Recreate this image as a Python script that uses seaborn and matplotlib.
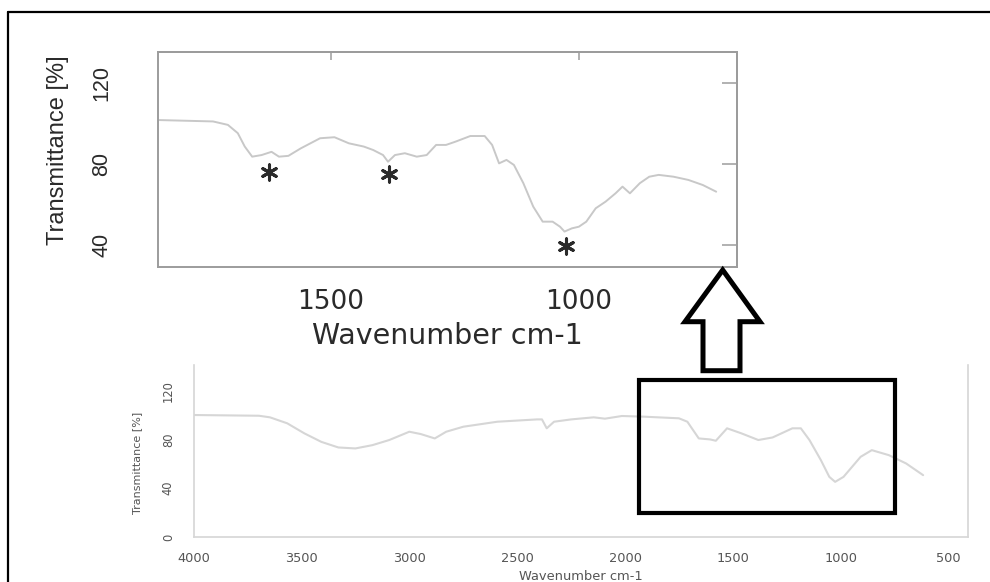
import matplotlib
matplotlib.use("Agg")
import matplotlib.pyplot as plt
from matplotlib.lines import Line2D
from matplotlib.patches import Polygon, Rectangle
import seaborn as sns
import pandas as pd

# Fingerprint region (upper panel), wavenumber in cm-1 and transmittance in %
fp_wavenumber = [1850, 1738, 1708, 1688, 1674, 1659, 1640, 1620, 1605, 1586,
                 1561, 1522, 1493, 1464, 1434, 1415, 1395, 1385, 1371, 1351,
                 1327, 1307, 1288, 1268, 1249, 1219, 1190, 1175, 1161, 1146,
                 1131, 1112, 1092, 1073, 1053, 1038, 1029, 1014, 1000, 985,
                 966, 946, 926, 912, 897, 877, 858, 839, 809, 779, 750, 723]
fp_transmittance = [101.7, 101.0, 99.3, 95.2, 88.6, 83.6, 84.4, 86.0, 83.6, 84.0,
                    87.7, 92.7, 93.2, 90.2, 88.6, 86.9, 84.4, 81.1, 84.4, 85.3,
                    83.6, 84.4, 89.4, 89.4, 91.0, 93.8, 93.8, 89.4, 80.3, 82.0,
                    79.5, 70.5, 58.9, 51.5, 51.5, 49.0, 46.6, 48.2, 49.0, 51.5,
                    58.1, 61.4, 65.5, 68.8, 65.5, 70.5, 73.7, 74.6, 73.7, 72.1,
                    69.6, 66.3]

# Marked absorption bands in the fingerprint region
peak_wavenumber = [1625, 1383, 1026]
peak_level = [76.2, 75.0, 39.5]

# Full spectrum (lower panel)
full_wavenumber = [4000, 3697, 3646, 3566, 3487, 3408, 3329, 3250, 3171, 3093,
                   3000, 2947, 2882, 2829, 2750, 2592, 2408, 2385, 2363, 2329,
                   2250, 2145, 2093, 2014, 1908, 1750, 1711, 1658, 1606, 1579,
                   1527, 1461, 1382, 1316, 1224, 1185, 1145, 1092, 1053, 1026,
                   987, 908, 856, 777, 697, 618]
full_transmittance = [100.0, 99.4, 98.1, 93.2, 85.0, 78.0, 73.4, 72.6, 75.3, 79.5,
                      86.3, 84.4, 80.8, 86.3, 90.4, 94.5, 96.4, 96.4, 89.1, 94.5,
                      96.4, 98.1, 97.0, 99.2, 98.6, 97.3, 94.5, 80.8, 80.0, 78.9,
                      89.1, 85.0, 79.5, 81.6, 89.1, 89.1, 79.5, 63.0, 49.3, 45.2,
                      49.3, 65.7, 71.2, 67.1, 60.3, 50.7]

top_xticks = [1500, 1000]
top_yticks = [40, 80, 120]
bottom_xticks = [4000, 3500, 3000, 2500, 2000, 1500, 1000, 500]
bottom_yticks = [0, 40, 80, 120]

# Zoom window drawn on the full spectrum
window_wn = (1935, 748)
window_t = (19.5, 128.8)

xlabel = "Wavenumber cm-1"
ylabel = "Transmittance [%]"

sns.set_theme(style="white")
plt.rcParams["font.family"] = ["DejaVu Sans"]
narrow = ["Liberation Sans", "DejaVu Sans"]

W, H = 990, 582
fig = plt.figure(figsize=(W / 100, H / 100), dpi=100)
fig.patch.set_facecolor("white")


def fx(px):
    return px / W


def fy(py):
    return 1 - py / H


# ---------------- upper panel: fingerprint region ----------------
spine_top = "#9c9c9c"
ax1 = fig.add_axes([fx(158), fy(267), fx(737) - fx(158), fy(52) - fy(267)])
fp = pd.DataFrame({"wn": fp_wavenumber, "t": fp_transmittance})
sns.lineplot(data=fp, x="wn", y="t", ax=ax1, color="#c8c8c8", linewidth=1.4)
ax1.scatter(peak_wavenumber, peak_level, marker=(6, 2, 0), s=120,
            linewidths=2.2, color="#2b2b2b", zorder=5)
ax1.set_xlim(1849, 681)
ax1.set_ylim(29.1, 135.3)
ax1.set_xticks(top_xticks)
ax1.set_yticks(top_yticks)
ax1.set_xticklabels([str(v) for v in top_xticks], fontsize=19, color="#2a2a2a")
ax1.set_yticklabels([str(v) for v in top_yticks], fontsize=15.5, color="#2a2a2a",
                    rotation=90, va="center", family=narrow)
ax1.tick_params(axis="x", direction="out", length=6, width=1.1,
                color=spine_top, pad=10)
ax1.tick_params(axis="y", direction="out", length=13, width=1.1,
                color=spine_top, pad=20)
for s in ax1.spines.values():
    s.set_color(spine_top)
    s.set_linewidth(1.4)
sec_x = ax1.secondary_xaxis("top")
sec_x.set_xticks(top_xticks)
sec_x.tick_params(direction="in", length=6, width=1.1, color=spine_top,
                  labeltop=False)
sec_x.spines["top"].set_color(spine_top)
sec_y = ax1.secondary_yaxis("right")
sec_y.set_yticks(top_yticks)
sec_y.tick_params(direction="in", length=11, width=1.1, color=spine_top,
                  labelright=False)
sec_y.spines["right"].set_color(spine_top)
ax1.set_xlabel(xlabel, fontsize=20.5, color="#2a2a2a", va="top")
ax1.xaxis.set_label_coords(0.5, -0.255)
ax1.set_ylabel(ylabel, fontsize=17, color="#2a2a2a", va="center",
               family=narrow)
ax1.yaxis.set_label_coords(-0.1727, 0.544)

# ---------------- lower panel: full spectrum ----------------
spine_bot = "#d6d6d6"
ax2 = fig.add_axes([fx(193.6), fy(537), fx(968) - fx(193.6), fy(365) - fy(537)])
full = pd.DataFrame({"wn": full_wavenumber, "t": full_transmittance})
sns.lineplot(data=full, x="wn", y="t", ax=ax2, color="#d6d6d6", linewidth=1.5)
ax2.set_xlim(4000, 410)
ax2.set_ylim(0, 141)
ax2.set_xticks(bottom_xticks)
ax2.set_yticks(bottom_yticks)
ax2.set_xticklabels([str(v) for v in bottom_xticks], fontsize=9.3,
                    color="#555555")
ax2.set_yticklabels([str(v) for v in bottom_yticks], fontsize=8.3,
                    color="#555555", rotation=90, va="center")
ax2.tick_params(axis="x", direction="out", length=4, width=1.0,
                color=spine_bot, pad=7)
ax2.tick_params(axis="y", direction="out", length=6.5, width=1.0,
                color=spine_bot, pad=7)
for name, s in ax2.spines.items():
    s.set_color(spine_bot)
    s.set_linewidth(1.2)
ax2.spines["top"].set_visible(False)
ax2.set_xlabel(xlabel, fontsize=9.4, color="#555555", va="top")
ax2.xaxis.set_label_coords(0.5, -0.19)
ax2.set_ylabel(ylabel, fontsize=8, color="#555555", va="center")
ax2.yaxis.set_label_coords(-0.073, 0.433)

ax2.add_patch(Rectangle((window_wn[0], window_t[0]),
                        window_wn[1] - window_wn[0], window_t[1] - window_t[0],
                        fill=False, edgecolor="black", linewidth=3.0,
                        joinstyle="miter", zorder=6, clip_on=False))

# ---------------- hollow arrow linking the two panels ----------------
arrow_px = [(722.7, 270), (760, 321.7), (740, 321.7), (740, 370.7),
            (703, 370.7), (703, 321.7), (685, 321.7)]
fig.add_artist(Polygon([(fx(x), fy(y)) for x, y in arrow_px], closed=True,
                       facecolor="white", edgecolor="black", linewidth=3.6,
                       joinstyle="miter", transform=fig.transFigure))

# ---------------- outer frame (left and top edges) ----------------
fig.add_artist(Line2D([fx(8), fx(8)], [fy(12), -0.01], color="black",
                      linewidth=1.6, transform=fig.transFigure))
fig.add_artist(Line2D([fx(8), 1.01], [fy(12), fy(12)], color="black",
                      linewidth=1.6, transform=fig.transFigure))

fig.savefig("out.png", dpi=100, facecolor="white")
